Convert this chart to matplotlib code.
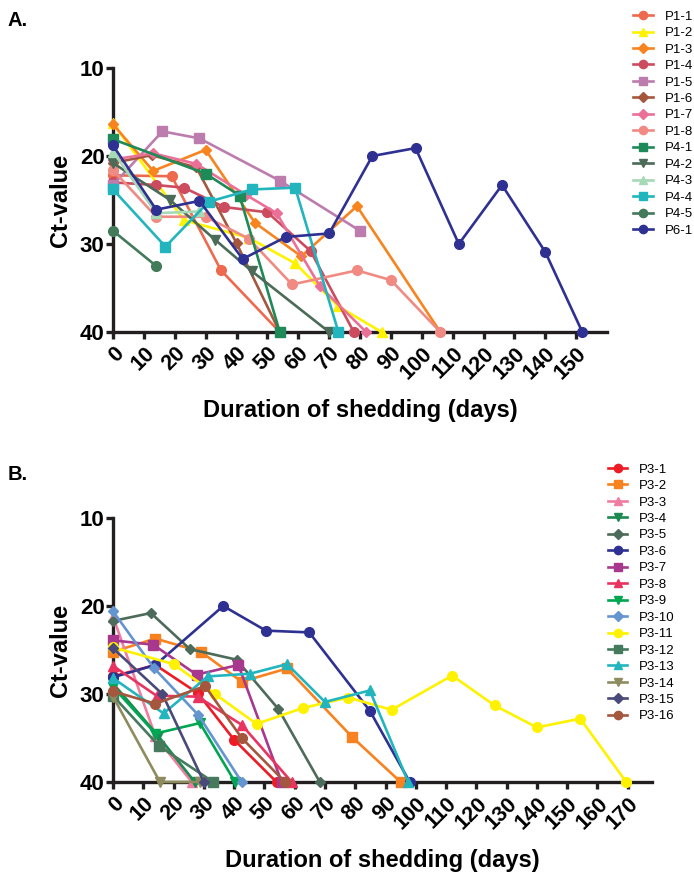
import matplotlib
matplotlib.use("Agg")
from matplotlib import pyplot as plt

plt.rcParams["font.family"] = ["Liberation Sans", "DejaVu Sans"]

# ---- panel A: Ct-values per patient sample ----
P1_1_DAY = [0, 19, 35, 54]
P1_1_CT = [22.2, 22.3, 33.0, 40]
P1_2_DAY = [0, 23, 44, 59, 73, 87]
P1_2_CT = [16.3, 27.3, 29.3, 32.2, 37.1, 40]
P1_3_DAY = [0, 13, 30, 46, 61, 79, 106]
P1_3_CT = [16.4, 21.7, 19.3, 27.6, 31.4, 25.7, 40]
P1_4_DAY = [0, 14, 23, 36, 50, 64, 78]
P1_4_CT = [23.0, 23.3, 23.6, 25.8, 26.4, 30.8, 40]
P1_5_DAY = [0, 16, 28, 54, 80]
P1_5_CT = [23.3, 17.2, 18.0, 22.8, 28.5]
P1_6_DAY = [0, 12.5, 27, 40, 54]
P1_6_CT = [20.8, 19.9, 21.3, 29.9, 40]
P1_7_DAY = [0, 13, 27, 43, 53, 67, 82]
P1_7_CT = [20.4, 19.7, 20.9, 24.4, 26.5, 34.8, 40]
P1_8_DAY = [0, 14, 30, 44, 58, 79, 90, 106]
P1_8_CT = [21.6, 26.9, 26.9, 29.4, 34.6, 33.0, 34.1, 40]
P4_1_DAY = [0, 30, 41, 54]
P4_1_CT = [18.1, 22.0, 24.5, 40]
P4_2_DAY = [0, 18.5, 33, 45, 70]
P4_2_CT = [20.8, 25.0, 29.5, 33.1, 40]
P4_3_DAY = [0, 14, 28]
P4_3_CT = [19.5, 26.5, 26.3]
P4_4_DAY = [0, 17, 31, 45, 59, 73]
P4_4_CT = [23.8, 30.3, 25.2, 23.8, 23.6, 40]
P4_5_DAY = [0, 14]
P4_5_CT = [28.5, 32.5]
P6_1_DAY = [0, 14, 28, 42, 56, 70, 84, 98, 112, 126, 140, 152]
P6_1_CT = [18.8, 26.1, 25.1, 31.7, 29.2, 28.8, 20.0, 19.1, 30.0, 23.3, 30.9, 40]

# ---- panel B ----
P3_1_DAY = [0, 14, 28, 40, 54]
P3_1_CT = [28.0, 26.7, 29.9, 35.2, 40]
P3_2_DAY = [0, 14, 29, 42.5, 57.5, 79, 95]
P3_2_CT = [25.2, 23.7, 25.2, 28.6, 27.1, 34.9, 40]
P3_3_DAY = [0, 14, 26]
P3_3_CT = [21.2, 34.8, 40]
P3_4_DAY = [0, 15, 27]
P3_4_CT = [28.8, 34.8, 40]
P3_5_DAY = [0, 12.5, 25.4, 40.8, 54.6, 68.3]
P3_5_CT = [21.7, 20.8, 24.9, 26.1, 31.7, 40]
P3_6_DAY = [0, 14, 36.4, 50.5, 64.8, 84.8, 98]
P3_6_CT = [28.1, 26.7, 20.0, 22.8, 23.0, 31.9, 40]
P3_7_DAY = [0, 13.3, 27.6, 41.4, 55.7]
P3_7_CT = [23.9, 24.4, 27.8, 26.7, 40]
P3_8_DAY = [0, 14.4, 28, 42.5, 59]
P3_8_CT = [26.8, 30.2, 30.3, 33.5, 40]
P3_9_DAY = [0, 14, 28.7, 40.3]
P3_9_CT = [29.2, 34.5, 33.3, 40]
P3_10_DAY = [0, 13.4, 28.2, 42.5]
P3_10_CT = [20.6, 27.0, 32.4, 40]
P3_11_DAY = [0, 20, 33.7, 47.4, 62.6, 77.7, 92, 112, 126, 140, 154.3, 169.5]
P3_11_CT = [24.7, 26.6, 30.0, 33.4, 31.6, 30.4, 31.8, 27.9, 31.3, 33.8, 32.8, 40]
P3_12_DAY = [0, 15.2, 33.1]
P3_12_CT = [30.2, 35.9, 40]
P3_13_DAY = [0, 16.7, 31.3, 45.2, 57.5, 70, 84.8, 97.5]
P3_13_CT = [28.2, 32.2, 28.0, 27.7, 26.6, 30.9, 29.6, 40]
P3_14_DAY = [0, 15.5, 28.7]
P3_14_CT = [30.3, 40, 40]
P3_15_DAY = [0, 16.3, 30]
P3_15_CT = [24.8, 30.0, 40]
P3_16_DAY = [0, 14, 30.4, 42.5, 56.8]
P3_16_CT = [29.7, 31.1, 29.1, 35.0, 40]

A_SERIES = [
    ("P1-1", P1_1_DAY, P1_1_CT, "#EE6A4F", "o"),
    ("P1-2", P1_2_DAY, P1_2_CT, "#FFF200", "^"),
    ("P1-3", P1_3_DAY, P1_3_CT, "#F7841E", "D"),
    ("P1-4", P1_4_DAY, P1_4_CT, "#CC4B5E", "o"),
    ("P1-5", P1_5_DAY, P1_5_CT, "#BC7CAD", "s"),
    ("P1-6", P1_6_DAY, P1_6_CT, "#A5573E", "D"),
    ("P1-7", P1_7_DAY, P1_7_CT, "#EB7098", "D"),
    ("P1-8", P1_8_DAY, P1_8_CT, "#F08A82", "o"),
    ("P4-1", P4_1_DAY, P4_1_CT, "#1D8A58", "s"),
    ("P4-2", P4_2_DAY, P4_2_CT, "#4B6A58", "v"),
    ("P4-3", P4_3_DAY, P4_3_CT, "#A6D9B5", "^"),
    ("P4-4", P4_4_DAY, P4_4_CT, "#22B5BE", "s"),
    ("P4-5", P4_5_DAY, P4_5_CT, "#427A5A", "o"),
    ("P6-1", P6_1_DAY, P6_1_CT, "#2E3192", "o"),
]

B_SERIES = [
    ("P3-1", P3_1_DAY, P3_1_CT, "#ED1C24", "o"),
    ("P3-2", P3_2_DAY, P3_2_CT, "#F7821F", "s"),
    ("P3-3", P3_3_DAY, P3_3_CT, "#F07CA0", "^"),
    ("P3-4", P3_4_DAY, P3_4_CT, "#1A8A50", "v"),
    ("P3-5", P3_5_DAY, P3_5_CT, "#4D6B5A", "D"),
    ("P3-6", P3_6_DAY, P3_6_CT, "#2E3192", "o"),
    ("P3-7", P3_7_DAY, P3_7_CT, "#A8388E", "s"),
    ("P3-8", P3_8_DAY, P3_8_CT, "#E8345F", "^"),
    ("P3-9", P3_9_DAY, P3_9_CT, "#00A651", "v"),
    ("P3-10", P3_10_DAY, P3_10_CT, "#6495D0", "D"),
    ("P3-11", P3_11_DAY, P3_11_CT, "#FFF200", "o"),
    ("P3-12", P3_12_DAY, P3_12_CT, "#457A5C", "s"),
    ("P3-13", P3_13_DAY, P3_13_CT, "#22B5BE", "^"),
    ("P3-14", P3_14_DAY, P3_14_CT, "#8E8C5E", "v"),
    ("P3-15", P3_15_DAY, P3_15_CT, "#4A4A7A", "D"),
    ("P3-16", P3_16_DAY, P3_16_CT, "#A5573E", "o"),
]

A_TICKS = list(range(0, 151, 10))
B_TICKS = list(range(0, 171, 10))
Y_TICKS = [10, 20, 30, 40]


def draw_panel(ax, series, xticks, xmax, letter, letter_y, legend_xy):
    for name, days, ct, color, marker in series:
        ms = 5.5 if marker == "D" else 7
        ax.plot(days, ct, color=color, marker=marker, markersize=ms, lw=1.9,
                label=name, clip_on=False, zorder=3)
    ax.set_xlim(0, xmax)
    ax.set_ylim(40, 10)
    ax.set_yticks(Y_TICKS)
    ax.set_xticks(xticks)
    ax.set_xticklabels([str(t) for t in xticks], rotation=45, ha="right",
                       rotation_mode="anchor", fontsize=15.5, fontweight="bold")
    ax.set_yticklabels([str(t) for t in Y_TICKS], fontsize=16, fontweight="bold")
    for side in ("top", "right"):
        ax.spines[side].set_visible(False)
    for side in ("left", "bottom"):
        ax.spines[side].set_linewidth(2.4)
        ax.spines[side].set_color("#231F20")
    ax.tick_params(width=2.4, length=5, color="#231F20", pad=1)
    ax.tick_params(axis="x", pad=3)
    ax.set_ylabel("Ct-value", fontsize=17, fontweight="bold", labelpad=6)
    ax.set_xlabel("Duration of shedding (days)", fontsize=17, fontweight="bold",
                  labelpad=11)
    fig.text(8 / 694, 1 - letter_y / 872, letter, fontsize=14.5,
             fontweight="bold", va="top", ha="left")
    ax.legend(loc="upper left", bbox_to_anchor=legend_xy, frameon=False,
              fontsize=9.5, handlelength=1.5, handletextpad=0.9,
              labelspacing=0.32, borderaxespad=0, markerscale=0.85)


fig = plt.figure(figsize=(6.94, 8.72), dpi=100)
ax_a = fig.add_axes([113 / 694, 1 - 332 / 872, 494 / 694, 264 / 872])
ax_b = fig.add_axes([113 / 694, 1 - 782 / 872, 539 / 694, 264 / 872])

draw_panel(ax_a, A_SERIES, A_TICKS, 160, "A.", 11, (1.0425, 1.238))
draw_panel(ax_b, B_SERIES, B_TICKS, 178, "B.", 465, (0.908, 1.227))

fig.savefig("out.png", dpi=100)
